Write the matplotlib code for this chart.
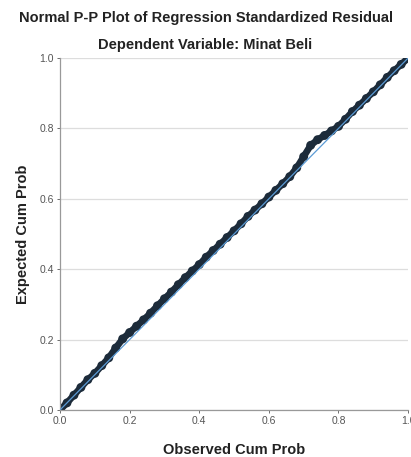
import matplotlib
matplotlib.use('Agg')

import matplotlib.pyplot as plt

# ---- data ----
observed = [0.00, 0.02, 0.04, 0.06, 0.08, 0.10, 0.12, 0.14, 0.16, 0.18,
            0.20, 0.22, 0.24, 0.26, 0.28, 0.30, 0.32, 0.34, 0.36, 0.38,
            0.40, 0.42, 0.44, 0.46, 0.48, 0.50, 0.52, 0.54, 0.56, 0.58,
            0.60, 0.62, 0.64, 0.66, 0.68, 0.70, 0.72, 0.74, 0.76, 0.78,
            0.80, 0.82, 0.84, 0.86, 0.88, 0.90, 0.92, 0.94, 0.96, 0.98, 1.00]
expected = [0.000, 0.020, 0.042, 0.064, 0.086, 0.104, 0.126, 0.148, 0.176, 0.202,
            0.220, 0.238, 0.256, 0.275, 0.296, 0.316, 0.335, 0.356, 0.376, 0.395,
            0.413, 0.434, 0.453, 0.471, 0.490, 0.509, 0.529, 0.550, 0.568, 0.586,
            0.605, 0.624, 0.643, 0.663, 0.688, 0.720, 0.752, 0.768, 0.780, 0.793,
            0.806, 0.826, 0.848, 0.866, 0.885, 0.904, 0.924, 0.945, 0.964, 0.982, 1.000]
ticks = [0.0, 0.2, 0.4, 0.6, 0.8, 1.0]

plt.rcParams['font.family'] = ['Liberation Sans', 'DejaVu Sans']

fig = plt.figure(figsize=(4.11, 4.57), dpi=100)
ax = fig.add_axes([0.146, 0.103, 0.847, 0.770])

ax.plot(observed, expected, color='#1c2b3a', lw=4.8, solid_capstyle='round', zorder=2)
ax.scatter(observed, expected, s=26, facecolors='none', edgecolors='#1c2b3a',
           linewidths=1.3, zorder=2)
ax.plot([0, 1], [0, 1], color='#5b9bd5', lw=0.9, zorder=3)

ax.set_xlim(0, 1)
ax.set_ylim(0, 1)
ax.set_xticks(ticks)
ax.set_yticks(ticks)
ax.set_xticklabels(['0.0', '0.2', '0.4', '0.6', '0.8', '1.0'])
ax.set_yticklabels(['0.0', '0.2', '0.4', '0.6', '0.8', '1.0'])
ax.tick_params(labelsize=7.5, colors='#555555', length=2.5, width=0.6, pad=2)
ax.grid(axis='y', color='#dddddd', lw=0.9)
ax.set_axisbelow(True)
for s in ['top', 'right']:
    ax.spines[s].set_visible(False)
for s in ['left', 'bottom']:
    ax.spines[s].set_color('#999999')
    ax.spines[s].set_linewidth(0.9)

ax.set_xlabel('Observed Cum Prob', fontsize=10.5, fontweight='bold', color='#222222', labelpad=12)
ax.set_ylabel('Expected Cum Prob', fontsize=10.5, fontweight='bold', color='#222222', labelpad=7)

fig.text(0.5, 0.960, 'Normal P-P Plot of Regression Standardized Residual',
         ha='center', va='center', fontsize=10.5, fontweight='bold', color='#222222')
fig.text(0.5, 0.901, 'Dependent Variable: Minat Beli',
         ha='center', va='center', fontsize=10.5, fontweight='bold', color='#222222')

fig.savefig('out.png', dpi=100)
